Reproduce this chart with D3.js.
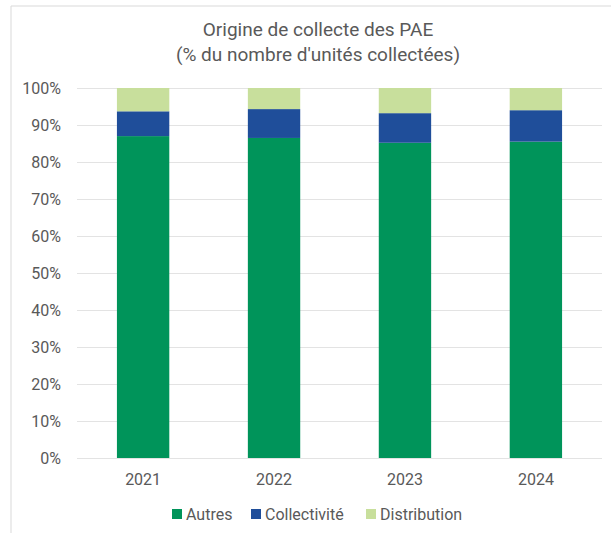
<!DOCTYPE html>
<html><head><meta charset="utf-8">
<script src="https://cdn.jsdelivr.net/npm/d3@7"></script>
<style>body{margin:0;background:#fff}svg{display:block}text{font-family:Roboto,"Open Sans",sans-serif}</style>
</head><body>
<svg id="c" width="611" height="533"></svg>
<script>
const years = ["2021","2022","2023","2024"];
const autres = [87.0, 86.5, 85.2, 85.5];
const collectivite = [6.7, 7.8, 8.0, 8.5];
const distribution = [6.3, 5.7, 6.8, 6.0];
const seriesNames = ["Autres","Collectivité","Distribution"];
const colors = ["#00945A","#1F4E9A","#C8DF9C"];
const yTicks = [0,10,20,30,40,50,60,70,80,90,100];
const titleLines = ["Origine de collecte des PAE","(% du nombre d'unités collectées)"];

const svg = d3.select("#c");
const textCol = "#595959";
svg.append("path").attr("d","M11,533 V6 H611").attr("fill","none").attr("stroke","#d9d9d9").attr("stroke-width",1);

const m = {l:77, r:602, t:88, b:458};
const x = d3.scaleBand().domain(years).range([m.l,m.r]).paddingInner(0.6).paddingOuter(0.305);
const y = d3.scaleLinear().domain([0,100]).range([m.b,m.t]);

svg.append("g").selectAll("line").data(yTicks).join("line")
  .attr("x1",m.l).attr("x2",m.r).attr("y1",d=>y(d)+0.5).attr("y2",d=>y(d)+0.5)
  .attr("stroke","#e3e3e3").attr("stroke-width",1);

const rows = years.map((yr,i)=>({year:yr, Autres:autres[i], "Collectivité":collectivite[i], Distribution:distribution[i]}));
const stacked = d3.stack().keys(seriesNames)(rows);
svg.append("g").selectAll("g").data(stacked).join("g").attr("fill",(d,i)=>colors[i])
  .selectAll("rect").data(d=>d).join("rect")
  .attr("x",d=>x(d.data.year)).attr("width",x.bandwidth())
  .attr("y",d=>y(d[1])).attr("height",d=>y(d[0])-y(d[1]));

const ya = svg.append("g").attr("transform",`translate(${m.l-16},0)`)
  .call(d3.axisLeft(y).tickValues(yTicks).tickFormat(d=>d+"%").tickSize(0));
ya.select(".domain").remove();
ya.selectAll("text").attr("fill",textCol).style("font-size","16px").attr("x",0).attr("dy","0.35em");

const xa = svg.append("g").attr("transform",`translate(0,${m.b})`)
  .call(d3.axisBottom(x).tickSize(0));
xa.select(".domain").remove();
xa.selectAll("text").attr("fill",textCol).style("font-size","16px").attr("y",16).attr("dy","0.71em");

svg.append("g").selectAll("text").data(titleLines).join("text")
  .attr("x",318).attr("y",(d,i)=>36+i*25).attr("text-anchor","middle")
  .attr("fill",textCol).style("font-size","19px").text(d=>d);

const legX = [172, 251, 366];
const lg = svg.append("g").selectAll("g").data(seriesNames).join("g")
  .attr("transform",(d,i)=>`translate(${legX[i]},509)`);
lg.append("rect").attr("width",10).attr("height",10).attr("fill",(d,i)=>colors[i]);
lg.append("text").attr("x",14).attr("y",5).attr("dy","0.35em").attr("fill",textCol).style("font-size","16px").text(d=>d);
</script>
</body></html>
